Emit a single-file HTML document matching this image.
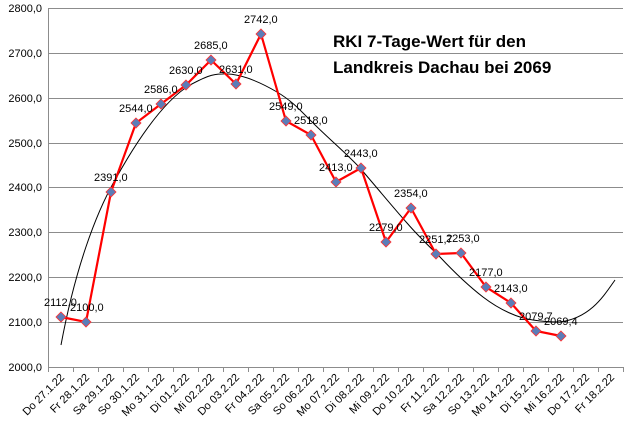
<!DOCTYPE html>
<html><head><meta charset="utf-8"><style>body{margin:0;background:#fff}svg{display:block}</style></head><body>
<svg width="626" height="435" xmlns="http://www.w3.org/2000/svg" font-family="Liberation Sans, sans-serif">
<rect width="626" height="435" fill="#fff"/>
<g stroke="#8c8c8c" stroke-width="1">
<line x1="48" y1="8.5" x2="623" y2="8.5"/><line x1="48" y1="53.5" x2="623" y2="53.5"/><line x1="48" y1="98.5" x2="623" y2="98.5"/><line x1="48" y1="143.5" x2="623" y2="143.5"/><line x1="48" y1="187.5" x2="623" y2="187.5"/><line x1="48" y1="232.5" x2="623" y2="232.5"/><line x1="48" y1="277.5" x2="623" y2="277.5"/><line x1="48" y1="322.5" x2="623" y2="322.5"/><line x1="48" y1="367.5" x2="623" y2="367.5"/>
<line x1="48.5" y1="8" x2="48.5" y2="372"/>
</g>
<g stroke="#8c8c8c"><path d="M73.5 367v5M98.5 367v5M123.5 367v5M148.5 367v5M173.5 367v5M198.5 367v5M223.5 367v5M248.5 367v5M273.5 367v5M298.5 367v5M323.5 367v5M348.5 367v5M373.5 367v5M398.5 367v5M423.5 367v5M448.5 367v5M473.5 367v5M498.5 367v5M523.5 367v5M548.5 367v5M573.5 367v5M598.5 367v5M623.5 367v5"/></g>
<g font-size="11" text-anchor="end" fill="#000">
<text x="42" y="12">2800,0</text><text x="42" y="57">2700,0</text><text x="42" y="102">2600,0</text><text x="42" y="147">2500,0</text><text x="42" y="191">2400,0</text><text x="42" y="236">2300,0</text><text x="42" y="281">2200,0</text><text x="42" y="326">2100,0</text><text x="42" y="371">2000,0</text>
</g>
<g font-size="11" text-anchor="end" fill="#000">
<text transform="translate(65,378) rotate(-45)">Do 27.1.22</text>
<text transform="translate(90,378) rotate(-45)">Fr 28.1.22</text>
<text transform="translate(115,378) rotate(-45)">Sa 29.1.22</text>
<text transform="translate(140,378) rotate(-45)">So 30.1.22</text>
<text transform="translate(165,378) rotate(-45)">Mo 31.1.22</text>
<text transform="translate(190,378) rotate(-45)">Di 01.2.22</text>
<text transform="translate(215,378) rotate(-45)">Mi 02.2.22</text>
<text transform="translate(240,378) rotate(-45)">Do 03.2.22</text>
<text transform="translate(265,378) rotate(-45)">Fr 04.2.22</text>
<text transform="translate(290,378) rotate(-45)">Sa 05.2.22</text>
<text transform="translate(315,378) rotate(-45)">So 06.2.22</text>
<text transform="translate(340,378) rotate(-45)">Mo 07.2.22</text>
<text transform="translate(365,378) rotate(-45)">Di 08.2.22</text>
<text transform="translate(390,378) rotate(-45)">Mi 09.2.22</text>
<text transform="translate(415,378) rotate(-45)">Do 10.2.22</text>
<text transform="translate(440,378) rotate(-45)">Fr 11.2.22</text>
<text transform="translate(465,378) rotate(-45)">Sa 12.2.22</text>
<text transform="translate(490,378) rotate(-45)">So 13.2.22</text>
<text transform="translate(515,378) rotate(-45)">Mo 14.2.22</text>
<text transform="translate(540,378) rotate(-45)">Di 15.2.22</text>
<text transform="translate(565,378) rotate(-45)">Mi 16.2.22</text>
<text transform="translate(590,378) rotate(-45)">Do 17.2.22</text>
<text transform="translate(615,378) rotate(-45)">Fr 18.2.22</text>
</g>
<path fill="none" stroke="#000" stroke-width="1" d="M61,345 C75,270 95,215 115,180 C140,135 165,100 190,85 C205,77 212,74 222,74 C240,73 260,82 277,92 C292,101 300,110 310,120 C330,140 345,152 360,168 C378,189 392,206 407,223 C420,238 430,247 440,257 C455,273 470,287 483,297 C500,310 518,318 533,320 C545,322 552,322 560,322 C575,320 585,314 593,307 C602,299 608,290 615,280"/>
<polyline fill="none" stroke="#ff0000" stroke-width="2.2" points="61,317 86,322 111,192 136,123 161,104 186,85 211,60 236,84 261,34 286,121 311,135 336,182 361,168 386,242 411,208 436,254 461,253 486,287 511,303 536,331 561,336"/>
<g fill="#5b7db8" stroke="#ff3030" stroke-width="0.8">
<path d="M61 312l5 5-5 5-5-5z"/><path d="M86 317l5 5-5 5-5-5z"/><path d="M111 187l5 5-5 5-5-5z"/><path d="M136 118l5 5-5 5-5-5z"/><path d="M161 99l5 5-5 5-5-5z"/><path d="M186 80l5 5-5 5-5-5z"/><path d="M211 55l5 5-5 5-5-5z"/><path d="M236 79l5 5-5 5-5-5z"/><path d="M261 29l5 5-5 5-5-5z"/><path d="M286 116l5 5-5 5-5-5z"/><path d="M311 130l5 5-5 5-5-5z"/><path d="M336 177l5 5-5 5-5-5z"/><path d="M361 163l5 5-5 5-5-5z"/><path d="M386 237l5 5-5 5-5-5z"/><path d="M411 203l5 5-5 5-5-5z"/><path d="M436 249l5 5-5 5-5-5z"/><path d="M461 248l5 5-5 5-5-5z"/><path d="M486 282l5 5-5 5-5-5z"/><path d="M511 298l5 5-5 5-5-5z"/><path d="M536 326l5 5-5 5-5-5z"/><path d="M561 331l5 5-5 5-5-5z"/>
</g>
<g font-size="11" fill="#000">
<text x="44" y="306">2112,0</text><text x="70" y="311">2100,0</text><text x="94" y="181">2391,0</text><text x="119" y="112">2544,0</text><text x="144" y="93">2586,0</text><text x="169" y="74">2630,0</text><text x="194" y="49">2685,0</text><text x="219" y="73">2631,0</text><text x="244" y="23">2742,0</text><text x="269" y="110">2549,0</text><text x="294" y="124">2518,0</text><text x="319" y="171">2413,0</text><text x="344" y="157">2443,0</text><text x="369" y="231">2279,0</text><text x="394" y="197">2354,0</text><text x="419" y="243">2251,7</text><text x="446" y="242">2253,0</text><text x="469" y="276">2177,0</text><text x="494" y="292">2143,0</text><text x="519" y="320">2079,7</text><text x="544" y="325">2069,4</text>
</g>
<g font-size="17" font-weight="bold" fill="#000">
<text x="333" y="47">RKI  7-Tage-Wert  für den</text>
<text x="333" y="73">Landkreis Dachau bei 2069</text>
</g>
</svg>
</body></html>
